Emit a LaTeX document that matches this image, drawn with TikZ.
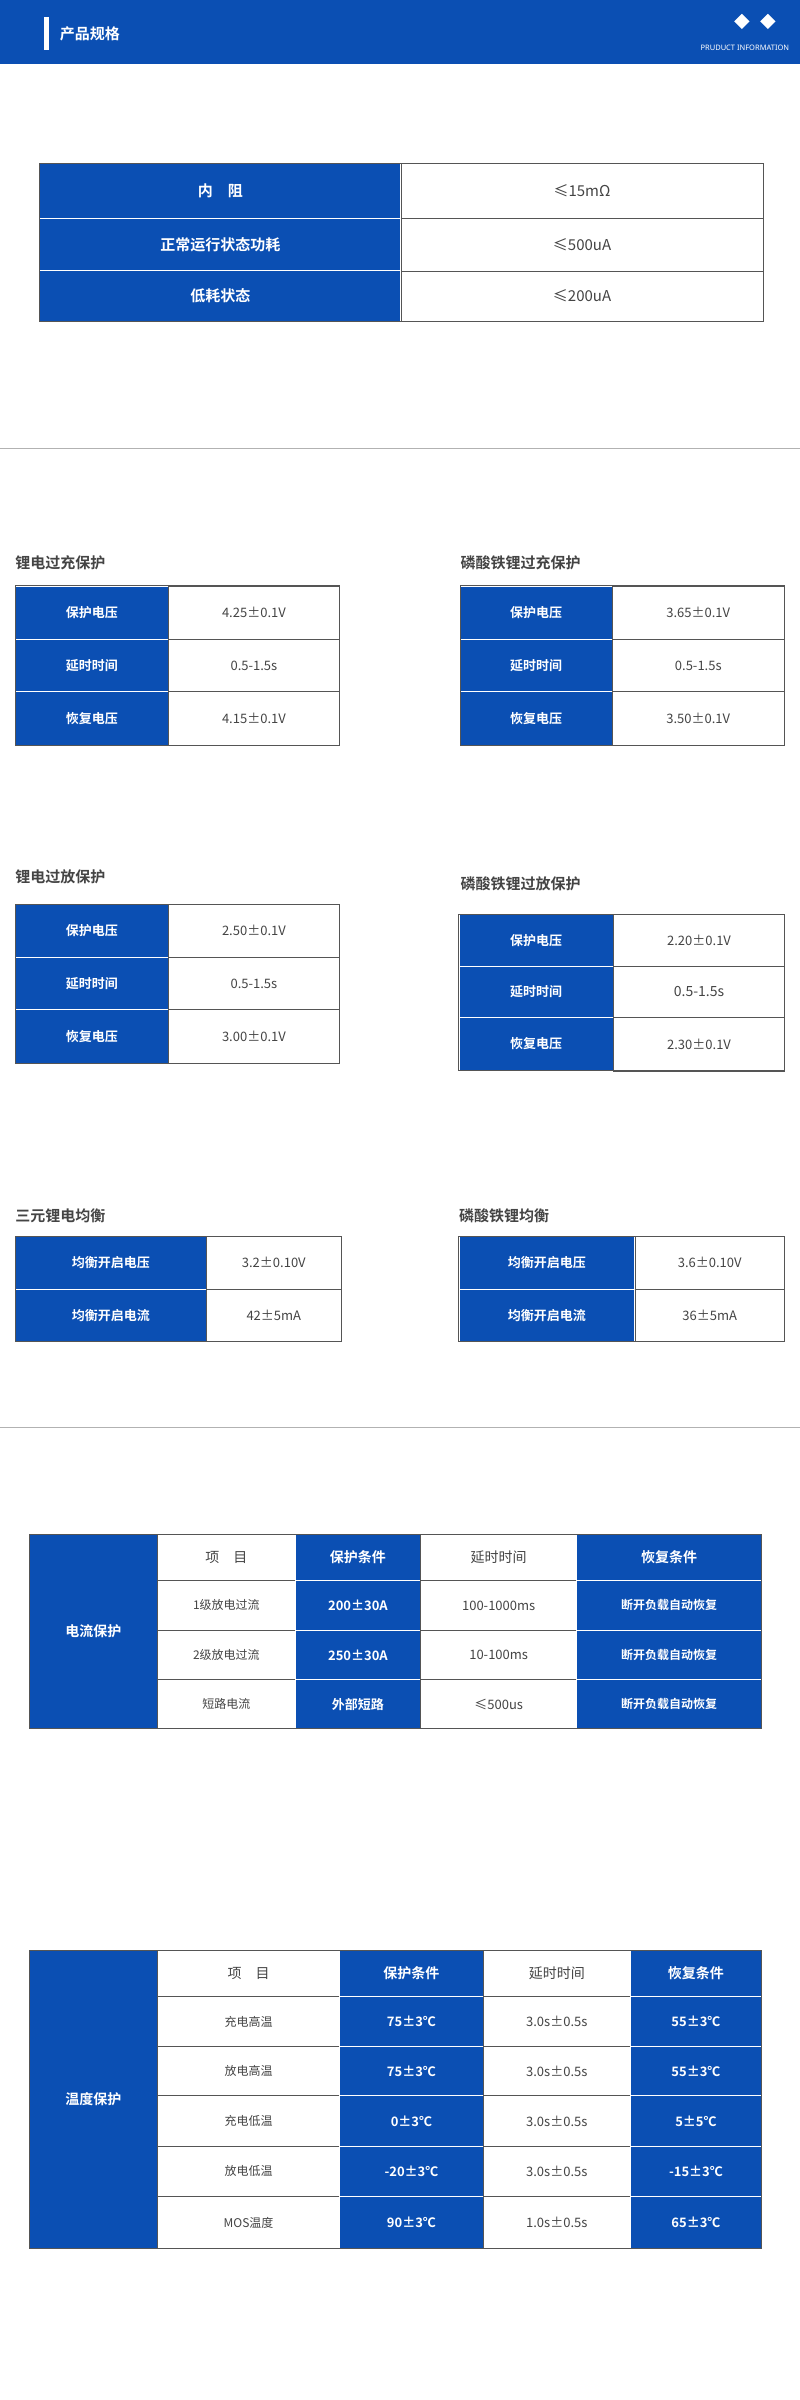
\documentclass[tikz,border=0pt]{standalone}
\usepackage{fontspec}
\setmainfont{Noto Sans CJK SC}[BoldFont={* Bold}]
\newfontfamily\latf{Noto Sans}
\definecolor{bl}{HTML}{0B4FB3}
\definecolor{tg}{HTML}{444444}
\definecolor{ln}{HTML}{555555}
\newcommand\bc[5]{\fill[bl,draw=white,line width=0.7] (#1,#2) rectangle (#3,#4);
  \node[font=\bfseries\fontsize{#5}{#5}\selectfont,text=white] at ({(#1+#3)/2},{(#2+#4)/2}) {\strut};}
\newcommand\B[6][15]{\fill[bl,draw=white,line width=0.7] (#2,#3) rectangle (#4,#5);
  \node[font=\bfseries\fontsize{#1pt}{#1pt}\selectfont,text=white,inner sep=0] at ({(#2+#4)/2},{(#3+#5)/2}) {#6};}
\newcommand\W[6][15]{\fill[white,draw=ln,line width=0.5] (#2,#3) rectangle (#4,#5);
  \node[font=\fontsize{#1pt}{#1pt}\selectfont,text=tg,inner sep=0] at ({(#2+#4)/2},{(#3+#5)/2}) {#6};}
\newcommand\Ttl[3]{\node[anchor=west,font=\bfseries\fontsize{15pt}{15pt}\selectfont,text=tg,inner sep=0] at (#1,#2) {#3};}
\begin{document}
\begin{tikzpicture}[x=1.5296pt,y=-1.5296pt]
\useasboundingbox[fill=white] (0,0) rectangle (523,1569);
% header
\fill[bl] (0,0) rectangle (523,42);
\fill[white] (29,11) rectangle (32,33);
\node[anchor=west,font=\bfseries\fontsize{15pt}{15pt}\selectfont,text=white,inner sep=0] (h) at (39,22) {产品规格};
\node[anchor=east,font=\latf\bfseries\fontsize{7.5pt}{7.5pt}\selectfont,text=white,inner sep=0] (h2) at (516,31) {PRUDUCT INFORMATION};
\fill[white] (485,9) -- (490,14) -- (485,19) -- (480,14) -- cycle;
\fill[white] (502,9) -- (507,14) -- (502,19) -- (497,14) -- cycle;
% table 1
\B{26}{107}{262}{143}{内\hspace{1em}阻}\W{262}{107}{499}{143}{≤15mΩ}
\B{26}{143}{262}{177}{正常运行状态功耗}\W{262}{143}{499}{177}{≤500uA}
\B{26}{177}{262}{210}{低耗状态}\W{262}{177}{499}{210}{≤200uA}
\draw[ln,line width=0.8] (26,107) rectangle (499,210);
\draw[gray!60,line width=0.8] (0,293) -- (523,293);
\draw[gray!60,line width=0.8] (0,933) -- (523,933);
% small tables
\newcommand\ST[9]{% x1 xm x2 y1 y2 y3 y4, vals
}
\Ttl{10}{368}{锂电过充保护}
\B[13]{10}{383}{110}{418}{保护电压}\W[13]{110}{383}{222}{418}{4.25±0.1V}
\B[13]{10}{418}{110}{452}{延时时间}\W[13]{110}{418}{222}{452}{0.5-1.5s}
\B[13]{10}{452}{110}{487}{恢复电压}\W[13]{110}{452}{222}{487}{4.15±0.1V}
\draw[ln,line width=0.8] (10,383) rectangle (222,487);
\Ttl{301}{368}{磷酸铁锂过充保护}
\B[13]{301}{383}{400}{418}{保护电压}\W[13]{400}{383}{513}{418}{3.65±0.1V}
\B[13]{301}{418}{400}{452}{延时时间}\W[13]{400}{418}{513}{452}{0.5-1.5s}
\B[13]{301}{452}{400}{487}{恢复电压}\W[13]{400}{452}{513}{487}{3.50±0.1V}
\draw[ln,line width=0.8] (301,383) rectangle (513,487);
\Ttl{10}{573}{锂电过放保护}
\B[13]{10}{591}{110}{626}{保护电压}\W[13]{110}{591}{222}{626}{2.50±0.1V}
\B[13]{10}{626}{110}{660}{延时时间}\W[13]{110}{626}{222}{660}{0.5-1.5s}
\B[13]{10}{660}{110}{695}{恢复电压}\W[13]{110}{660}{222}{695}{3.00±0.1V}
\draw[ln,line width=0.8] (10,591) rectangle (222,695);
\Ttl{301}{578}{磷酸铁锂过放保护}
\B[13]{300}{598}{401}{632}{保护电压}\W[13]{401}{598}{513}{632}{2.20±0.1V}
\B[13]{300}{632}{401}{665}{延时时间}\W[14]{401}{632}{513}{665}{0.5-1.5s}
\B[13]{300}{665}{401}{700}{恢复电压}\W[13]{401}{665}{513}{700}{2.30±0.1V}
\draw[ln,line width=0.8] (300,598) rectangle (513,700);
\Ttl{10}{795}{三元锂电均衡}
\B[13]{10}{808}{135}{843}{均衡开启电压}\W[13]{135}{808}{223}{843}{3.2±0.10V}
\B[13]{10}{843}{135}{877}{均衡开启电流}\W[13]{135}{843}{223}{877}{42±5mA}
\draw[ln,line width=0.8] (10,808) rectangle (223,877);
\Ttl{300}{795}{磷酸铁锂均衡}
\B[13]{300}{808}{415}{843}{均衡开启电压}\W[13]{415}{808}{513}{843}{3.6±0.10V}
\B[13]{300}{843}{415}{877}{均衡开启电流}\W[13]{415}{843}{513}{877}{36±5mA}
\draw[ln,line width=0.8] (300,808) rectangle (513,877);
% current table
\B[14]{19}{1003}{103}{1130}{电流保护}
\W[14]{103}{1003}{193}{1033}{项\hspace{1em}目}\B[14]{193}{1003}{275}{1033}{保护条件}\W[14]{275}{1003}{377}{1033}{延时时间}\B[14]{377}{1003}{498}{1033}{恢复条件}
\W[12]{103}{1033}{193}{1066}{1级放电过流}\B[13]{193}{1033}{275}{1066}{200±30A}\W[13]{275}{1033}{377}{1066}{100-1000ms}\B[12]{377}{1033}{498}{1066}{断开负载自动恢复}
\W[12]{103}{1066}{193}{1098}{2级放电过流}\B[13]{193}{1066}{275}{1098}{250±30A}\W[13]{275}{1066}{377}{1098}{10-100ms}\B[12]{377}{1066}{498}{1098}{断开负载自动恢复}
\W[12]{103}{1098}{193}{1130}{短路电流}\B[13]{193}{1098}{275}{1130}{外部短路}\W[13]{275}{1098}{377}{1130}{≤500us}\B[12]{377}{1098}{498}{1130}{断开负载自动恢复}
\draw[ln,line width=0.8] (19,1003) rectangle (498,1130);
% temperature table
\B[14]{19}{1275}{103}{1470}{温度保护}
\W[14]{103}{1275}{222}{1305}{项\hspace{1em}目}\B[14]{222}{1275}{316}{1305}{保护条件}\W[14]{316}{1275}{412}{1305}{延时时间}\B[14]{412}{1275}{498}{1305}{恢复条件}
\W[12]{103}{1305}{222}{1338}{充电高温}\B[13]{222}{1305}{316}{1338}{75±3℃}\W[13]{316}{1305}{412}{1338}{3.0s±0.5s}\B[13]{412}{1305}{498}{1338}{55±3℃}
\W[12]{103}{1338}{222}{1370}{放电高温}\B[13]{222}{1338}{316}{1370}{75±3℃}\W[13]{316}{1338}{412}{1370}{3.0s±0.5s}\B[13]{412}{1338}{498}{1370}{55±3℃}
\W[12]{103}{1370}{222}{1403}{充电低温}\B[13]{222}{1370}{316}{1403}{0±3℃}\W[13]{316}{1370}{412}{1403}{3.0s±0.5s}\B[13]{412}{1370}{498}{1403}{5±5℃}
\W[12]{103}{1403}{222}{1436}{放电低温}\B[13]{222}{1403}{316}{1436}{-20±3℃}\W[13]{316}{1403}{412}{1436}{3.0s±0.5s}\B[13]{412}{1403}{498}{1436}{-15±3℃}
\W[12]{103}{1436}{222}{1470}{MOS温度}\B[13]{222}{1436}{316}{1470}{90±3℃}\W[13]{316}{1436}{412}{1470}{1.0s±0.5s}\B[13]{412}{1436}{498}{1470}{65±3℃}
\draw[ln,line width=0.8] (19,1275) rectangle (498,1470);
\end{tikzpicture}
\end{document}
